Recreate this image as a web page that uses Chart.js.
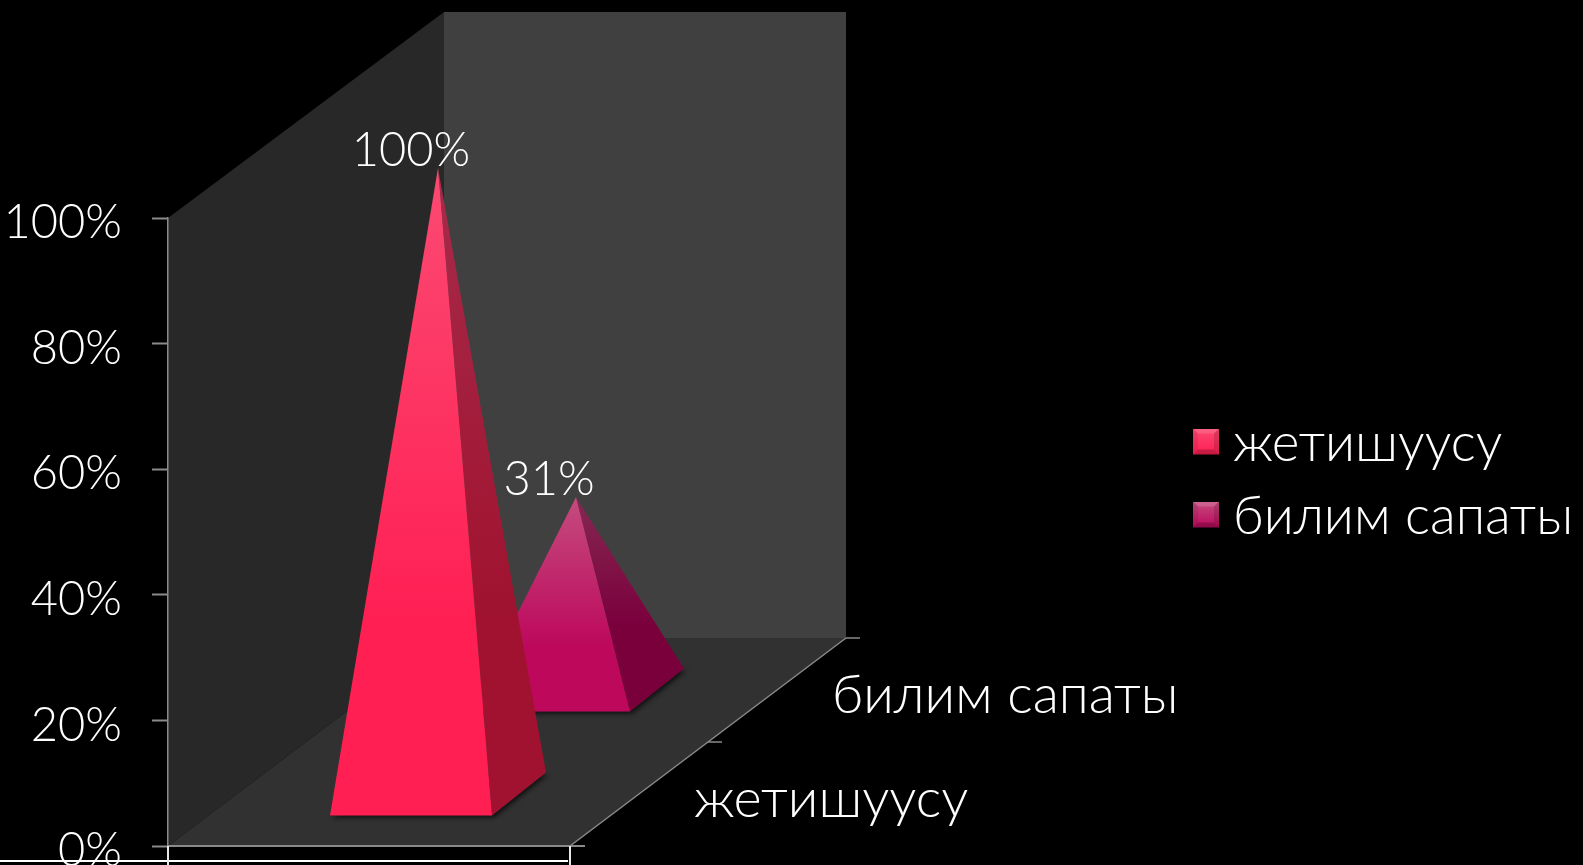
<!DOCTYPE html>
<html>
<head>
<meta charset="utf-8">
<title>жетишуусу / билим сапаты</title>
<script src="https://cdn.jsdelivr.net/npm/chart.js@4/dist/chart.umd.js"></script>
<style>
    html, body { margin: 0; background: #000; overflow: hidden; }
    canvas { display: block; }
</style>
</head>
<body>
<canvas id="pyramidChart" width="1583" height="865"></canvas>
<script>
// Data
const categories = ['жетишуусу', 'билим сапаты'];
const values = [100, 31];
const valueLabels = ['100%', '31%'];

// Face colours per category
const frontTop = ['#fb4a72', '#c44c7e'];
const frontBottom = ['#ff1f53', '#bd085c'];
const sideTop = ['#a62b4a', '#862852'];
const sideBottom = ['#a0122f', '#7a003c'];

// 3D box shape (px)
const FRONT_W = 402;
const DEPTH_X = 276;
const DEPTH_Y = 208;
const BAR_W = 162;
const BAR_DX = 54;
const BAR_DY = 43;
const APEX_DROP = 2;
const AXIS_GRAY = '#8a8a8a';

function fillPoly(ctx, pts, fill) {
    ctx.beginPath();
    ctx.moveTo(pts[0][0], pts[0][1]);
    pts.slice(1).forEach(p => ctx.lineTo(p[0], p[1]));
    ctx.closePath();
    ctx.fillStyle = fill;
    ctx.fill();
}

function strokeLine(ctx, x1, y1, x2, y2, color, width) {
    ctx.beginPath();
    ctx.moveTo(x1, y1);
    ctx.lineTo(x2, y2);
    ctx.strokeStyle = color;
    ctx.lineWidth = width;
    ctx.stroke();
}

// Bevelled legend swatch, canvas is taller so the square sits above the text middle
function makeSwatch(i) {
    const c = document.createElement('canvas');
    c.width = 26;
    c.height = 30;
    const g = c.getContext('2d');
    const grad = g.createLinearGradient(0, 0, 0, 26);
    grad.addColorStop(0, frontTop[i]);
    grad.addColorStop(1, frontBottom[i]);
    g.fillStyle = grad;
    g.fillRect(0, 0, 26, 26);
    fillPoly(g, [[0, 0], [26, 0], [21, 5], [5, 5]], 'rgba(255,255,255,0.14)');
    fillPoly(g, [[0, 26], [26, 26], [21, 21], [5, 21]], 'rgba(0,0,0,0.22)');
    fillPoly(g, [[0, 0], [5, 5], [5, 21], [0, 26]], 'rgba(0,0,0,0.08)');
    fillPoly(g, [[26, 0], [21, 5], [21, 21], [26, 26]], 'rgba(0,0,0,0.14)');
    return c;
}

// Point on the floor for a depth between 0 (front) and 1 (back)
function floorPoint(chart, depth) {
    const left = chart.chartArea.left;
    const y0 = chart.scales.y.getPixelForValue(0);
    return { x: left + FRONT_W / 2 + DEPTH_X * depth, y: y0 - DEPTH_Y * depth };
}

function depthOf(chart, bar) {
    const area = chart.chartArea;
    return (bar.x - area.left) / area.width;
}

const pyramid3d = {
    id: 'pyramid3d',
    afterLayout(chart) {
        // Legend sits well away from the plot
        chart.legend.left = 1185.5;
        chart.legend.right = 1583;
        chart.legend.top = 397;
    },
    beforeDraw(chart) {
        const ctx = chart.ctx;
        const yScale = chart.scales.y;
        const left = chart.chartArea.left;
        const y0 = yScale.getPixelForValue(0);
        const y100 = yScale.getPixelForValue(100);
        const backX = left + DEPTH_X;
        const backY = y0 - DEPTH_Y;
        const topY = y100 - DEPTH_Y + 2;

        fillPoly(ctx, [[left, y0], [left, y100], [backX, topY], [backX, backY]], '#282828');
        fillPoly(ctx, [[backX, topY], [backX + FRONT_W, topY], [backX + FRONT_W, backY], [backX, backY]], '#404040');
        fillPoly(ctx, [[left, y0], [left + FRONT_W, y0], [backX + FRONT_W, backY], [backX, backY]], '#313131');

        // Floor edges and depth ticks
        strokeLine(ctx, left, y0, left + FRONT_W + 15, y0, AXIS_GRAY, 2);
        strokeLine(ctx, left + FRONT_W, y0, backX + FRONT_W, backY, AXIS_GRAY, 1.5);
        [0.5, 1].forEach(d => {
            const x = left + FRONT_W + DEPTH_X * d;
            const y = y0 - DEPTH_Y * d;
            strokeLine(ctx, x, y, x + 14, y, AXIS_GRAY, 1.5);
        });
    },
    beforeDatasetsDraw(chart) {
        const ctx = chart.ctx;
        const y0 = chart.scales.y.getPixelForValue(0);
        const bars = chart.getDatasetMeta(0).data;

        // Back pyramid first
        for (let i = bars.length - 1; i >= 0; i--) {
            const c = floorPoint(chart, depthOf(chart, bars[i]));
            const apex = [c.x, c.y - (y0 - bars[i].y) + APEX_DROP];
            const fl = [c.x - BAR_W / 2 - BAR_DX / 2, c.y + BAR_DY / 2];
            const fr = [fl[0] + BAR_W, fl[1]];
            const br = [fr[0] + BAR_DX, fr[1] - BAR_DY];
            const bl = [fl[0] + BAR_DX, fl[1] - BAR_DY];

            // Shadow under the base
            ctx.save();
            ctx.shadowColor = 'rgba(0,0,0,0.7)';
            ctx.shadowBlur = 5;
            ctx.shadowOffsetX = 2;
            ctx.shadowOffsetY = 2;
            fillPoly(ctx, [fl, fr, br, bl], '#202020');
            ctx.restore();

            const front = ctx.createLinearGradient(0, apex[1], 0, fl[1]);
            front.addColorStop(0, frontTop[i]);
            front.addColorStop(0.7, frontBottom[i]);
            front.addColorStop(1, frontBottom[i]);
            const side = ctx.createLinearGradient(0, apex[1], 0, br[1]);
            side.addColorStop(0, sideTop[i]);
            side.addColorStop(0.75, sideBottom[i]);
            side.addColorStop(1, sideBottom[i]);

            fillPoly(ctx, [fr, br, apex], side);
            fillPoly(ctx, [fl, fr, apex], front);
        }
    },
    afterDatasetsDraw(chart) {
        const ctx = chart.ctx;
        const y0 = chart.scales.y.getPixelForValue(0);
        const bars = chart.getDatasetMeta(0).data;
        ctx.save();
        ctx.fillStyle = '#fff';

        // Value labels over the apex
        ctx.font = '300 47px Lato';
        ctx.textAlign = 'center';
        ctx.textBaseline = 'alphabetic';
        bars.forEach((bar, i) => {
            const c = floorPoint(chart, depthOf(chart, bar));
            ctx.fillText(valueLabels[i], c.x - 27, c.y - (y0 - bar.y));
        });

        // Category labels along the depth edge
        ctx.font = '300 54px Lato';
        ctx.textAlign = 'left';
        ctx.textBaseline = 'middle';
        bars.forEach((bar, i) => {
            const d = depthOf(chart, bar);
            const c = floorPoint(chart, d);
            ctx.fillText(categories[i], c.x + FRONT_W / 2 + 55, c.y + 6);
        });
        ctx.restore();

        // Stray border lines along the bottom of the picture
        const left = chart.chartArea.left;
        strokeLine(ctx, 0, 861, left + FRONT_W - 2, 861, '#fff', 2);
        strokeLine(ctx, left, y0, left, 865, '#e8e8e8', 2);
        strokeLine(ctx, left + FRONT_W, y0, left + FRONT_W, 865, '#e8e8e8', 2);
    }
};

const ctx = document.getElementById('pyramidChart').getContext('2d');
const chart = new Chart(ctx, {
    type: 'bar',
    data: {
        labels: categories,
        datasets: [{
            data: values,
            backgroundColor: 'transparent',
            borderWidth: 0
        }]
    },
    options: {
        responsive: false,
        animation: false,
        layout: { padding: { top: 218, bottom: 19 } },
        scales: {
            x: { display: false },
            y: {
                min: 0,
                max: 100,
                afterFit: (scale) => {
                    scale.width = 168;
                    scale.paddingTop = 0;
                    scale.paddingBottom = 0;
                },
                border: { color: AXIS_GRAY, width: 1.5 },
                grid: {
                    drawOnChartArea: false,
                    tickLength: 16,
                    tickColor: AXIS_GRAY,
                    tickWidth: 2
                },
                ticks: {
                    stepSize: 20,
                    padding: 30,
                    labelOffset: 5,
                    color: '#fff',
                    font: { family: 'Lato', size: 47, weight: '300' },
                    callback: (v) => v + '%'
                }
            }
        },
        plugins: {
            tooltip: { enabled: false },
            legend: {
                position: 'right',
                align: 'start',
                labels: {
                    usePointStyle: true,
                    pointStyleWidth: 1,
                    padding: 20,
                    color: '#fff',
                    font: { family: 'Lato', size: 53, weight: '300', lineHeight: 1 },
                    generateLabels: () => categories.map((text, i) => ({
                        text: text,
                        pointStyle: makeSwatch(i),
                        fontColor: '#fff',
                        lineWidth: 0,
                        strokeStyle: 'transparent',
                        hidden: false,
                        index: i
                    }))
                }
            }
        }
    },
    plugins: [pyramid3d]
});
</script>
</body>
</html>
